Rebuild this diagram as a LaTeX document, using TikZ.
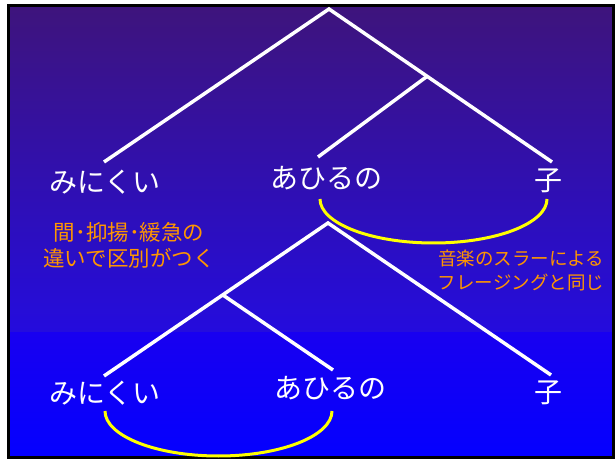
\documentclass[tikz,border=0pt]{standalone}
\usepackage{fontspec}
\usetikzlibrary{calc}
\newfontfamily\jp{Noto Sans CJK JP}
\definecolor{bgtop}{RGB}{62,20,124}
\definecolor{bgmid}{RGB}{36,12,222}
\definecolor{bglow}{RGB}{24,0,240}
\definecolor{bgbot}{RGB}{4,0,255}
\definecolor{notecol}{RGB}{255,150,0}
\definecolor{slurcol}{RGB}{255,255,0}
\begin{document}
\begin{tikzpicture}[x=1pt,y=-1pt,
  branch/.style={white,line width=3.5pt},
  slur/.style={slurcol,line width=3pt},
  word/.style={text=white,font=\jp\fontsize{28}{30}\selectfont,inner sep=0pt},
  noteL/.style={text=notecol,font=\jp\fontsize{21.5}{26}\selectfont,align=center,inner sep=0pt},
  noteR/.style={text=notecol,font=\jp\fontsize{18.5}{24}\selectfont,align=center,inner sep=0pt}]
\useasboundingbox (0,0) rectangle (616,462);
% background
\fill[white] (0,0) rectangle (616,462);
\shade[top color=bgtop,bottom color=bgmid] (8,6) rectangle (613,334);
\shade[top color=bglow,bottom color=bgbot] (8,333) rectangle (613,458);
\draw[black,line width=3pt] (8.5,5.5) rectangle (613.5,457.5);

% tree 1
\coordinate (a1) at (329,9);
\coordinate (l1) at (104,162);
\coordinate (r1) at (552,162);
\coordinate (i1) at ($(a1)!0.44!(r1)$);
\coordinate (m1) at (318,157);
\draw[branch] (l1) -- (a1) -- (r1);
\draw[branch] (i1) -- (m1);
\node[word] (w11) at (105,182) {みにくい};
\node[word] (w12) at (326,178) {あひるの};
\node[word] (w13) at (548,181) {子};

% tree 2
\coordinate (a2) at (328,223);
\coordinate (l2) at (104,376);
\coordinate (r2) at (551,375);
\coordinate (i2) at ($(a2)!0.47!(l2)$);
\coordinate (m2) at (333,370);
\draw[branch] (l2) -- (a2) -- (r2);
\draw[branch] (i2) -- (m2);
\node[word] (w21) at (105,393) {みにくい};
\node[word] (w22) at (330,388) {あひるの};
\node[word] (w23) at (548,393) {子};

% slurs
\coordinate (s1) at (320,199);
\draw[slur] (s1) arc[start angle=180,end angle=360,x radius=113.5pt,y radius=44pt];
\coordinate (s2) at (105,411);
\draw[slur] (s2) arc[start angle=180,end angle=360,x radius=113.5pt,y radius=45pt];

% notes
\node[noteL] (n1) at (129,245) {間･抑揚･緩急の\\違いで区別がつく};
\node[noteR] (n2) at (521,270) {音楽のスラーによる\\フレージングと同じ};
\end{tikzpicture}
\end{document}
